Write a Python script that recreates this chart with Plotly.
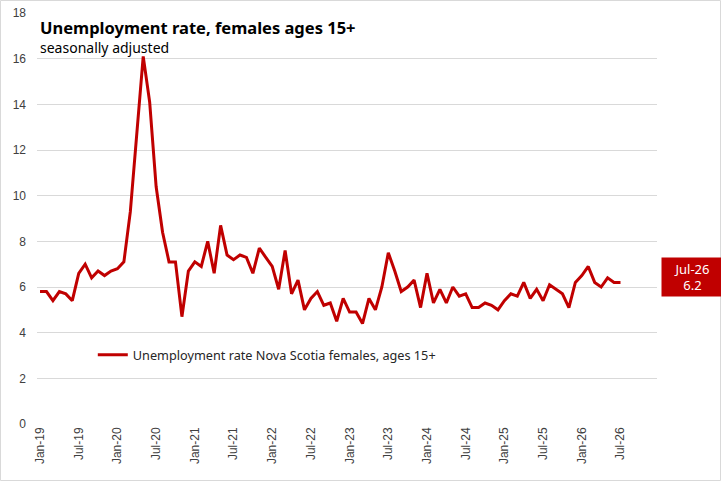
import plotly.graph_objects as go

# monthly, seasonally adjusted, Jan-19 .. Jul-26
months = [
    "Jan-19", "Feb-19", "Mar-19", "Apr-19", "May-19", "Jun-19",
    "Jul-19", "Aug-19", "Sep-19", "Oct-19", "Nov-19", "Dec-19",
    "Jan-20", "Feb-20", "Mar-20", "Apr-20", "May-20", "Jun-20",
    "Jul-20", "Aug-20", "Sep-20", "Oct-20", "Nov-20", "Dec-20",
    "Jan-21", "Feb-21", "Mar-21", "Apr-21", "May-21", "Jun-21",
    "Jul-21", "Aug-21", "Sep-21", "Oct-21", "Nov-21", "Dec-21",
    "Jan-22", "Feb-22", "Mar-22", "Apr-22", "May-22", "Jun-22",
    "Jul-22", "Aug-22", "Sep-22", "Oct-22", "Nov-22", "Dec-22",
    "Jan-23", "Feb-23", "Mar-23", "Apr-23", "May-23", "Jun-23",
    "Jul-23", "Aug-23", "Sep-23", "Oct-23", "Nov-23", "Dec-23",
    "Jan-24", "Feb-24", "Mar-24", "Apr-24", "May-24", "Jun-24",
    "Jul-24", "Aug-24", "Sep-24", "Oct-24", "Nov-24", "Dec-24",
    "Jan-25", "Feb-25", "Mar-25", "Apr-25", "May-25", "Jun-25",
    "Jul-25", "Aug-25", "Sep-25", "Oct-25", "Nov-25", "Dec-25",
    "Jan-26", "Feb-26", "Mar-26", "Apr-26", "May-26", "Jun-26",
    "Jul-26",
]
rate = [
    5.8, 5.8, 5.4, 5.8, 5.7, 5.4,
    6.6, 7.0, 6.4, 6.7, 6.5, 6.7,
    6.8, 7.1, 9.3, 12.6, 16.1, 14.1,
    10.4, 8.4, 7.1, 7.1, 4.7, 6.7,
    7.1, 6.9, 8.0, 6.6, 8.7, 7.4,
    7.2, 7.4, 7.3, 6.6, 7.7, 7.3,
    6.9, 5.9, 7.6, 5.7, 6.3, 5.0,
    5.5, 5.8, 5.2, 5.3, 4.5, 5.5,
    4.9, 4.9, 4.4, 5.5, 5.0, 6.0,
    7.5, 6.7, 5.8, 6.0, 6.3, 5.1,
    6.6, 5.3, 5.9, 5.3, 6.0, 5.6,
    5.7, 5.1, 5.1, 5.3, 5.2, 5.0,
    5.4, 5.7, 5.6, 6.2, 5.5, 5.9,
    5.4, 6.1, 5.9, 5.7, 5.1, 6.2,
    6.5, 6.9, 6.2, 6.0, 6.4, 6.2,
    6.2,
]
tick_idx = list(range(0, len(months), 6))
tick_text = [months[i] for i in tick_idx]

red = "#C00000"
grid = "#D9D9D9"

fig = go.Figure()
fig.add_trace(go.Scatter(
    x=list(range(len(months))), y=rate, mode="lines",
    name="Unemployment rate Nova Scotia females, ages 15+",
    line=dict(color=red, width=3),
))

fig.update_layout(
    width=721, height=481,
    margin=dict(l=37, r=64, t=13, b=57),
    paper_bgcolor="white", plot_bgcolor="white",
    font=dict(family="Liberation Sans, Arial", size=12, color="#404040"),
    showlegend=True,
    legend=dict(
        x=0.09, y=0.168, xanchor="left", yanchor="middle",
        bgcolor="rgba(0,0,0,0)",
        font=dict(family="Noto Sans", size=12.7, color="#262626"),
        itemwidth=30,
    ),
)

fig.update_xaxes(
    range=[-0.47, 95.66],
    tickvals=tick_idx, ticktext=tick_text, tickangle=-90,
    showgrid=False, zeroline=False, showline=False, ticks="",
    automargin=False,
    tickfont=dict(size=12, color="#404040"),
)
fig.update_yaxes(
    range=[0, 18], dtick=2,
    showgrid=True, gridcolor=grid, gridwidth=1,
    zeroline=False, showline=False, ticks="",
    automargin=False, ticklabelstandoff=10,
    tickfont=dict(size=12, color="#404040"),
)

# title and subtitle inside the plot area
fig.add_annotation(
    text="<b>Unemployment rate, females ages 15+</b>",
    xref="paper", yref="paper", x=0.002, y=0.997,
    xanchor="left", yanchor="top", showarrow=False,
    font=dict(family="Noto Sans", size=16.5, color="black"),
)
fig.add_annotation(
    text="seasonally adjusted",
    xref="paper", yref="paper", x=0.002, y=0.945,
    xanchor="left", yanchor="top", showarrow=False,
    font=dict(family="Noto Sans", size=14, color="black"),
)

# latest value label at the right
fig.add_annotation(
    text=f"{months[-1]}<br>{rate[-1]}",
    xref="paper", yref="paper", x=1.055, y=0.358,
    xanchor="center", yanchor="middle", showarrow=False,
    bgcolor=red, width=57, height=36,
    font=dict(family="Noto Sans", size=13, color="white"),
)

# light frame round the whole chart
fig.add_shape(
    type="rect", xref="paper", yref="paper",
    x0=-36.5 / 620, x1=683.5 / 620, y0=-56.5 / 411, y1=423.5 / 411,
    line=dict(color=grid, width=1), layer="below",
)

fig.write_html(
    "out.html",
    config={"displayModeBar": False},
    post_script="document.body.style.margin='0';",
)
